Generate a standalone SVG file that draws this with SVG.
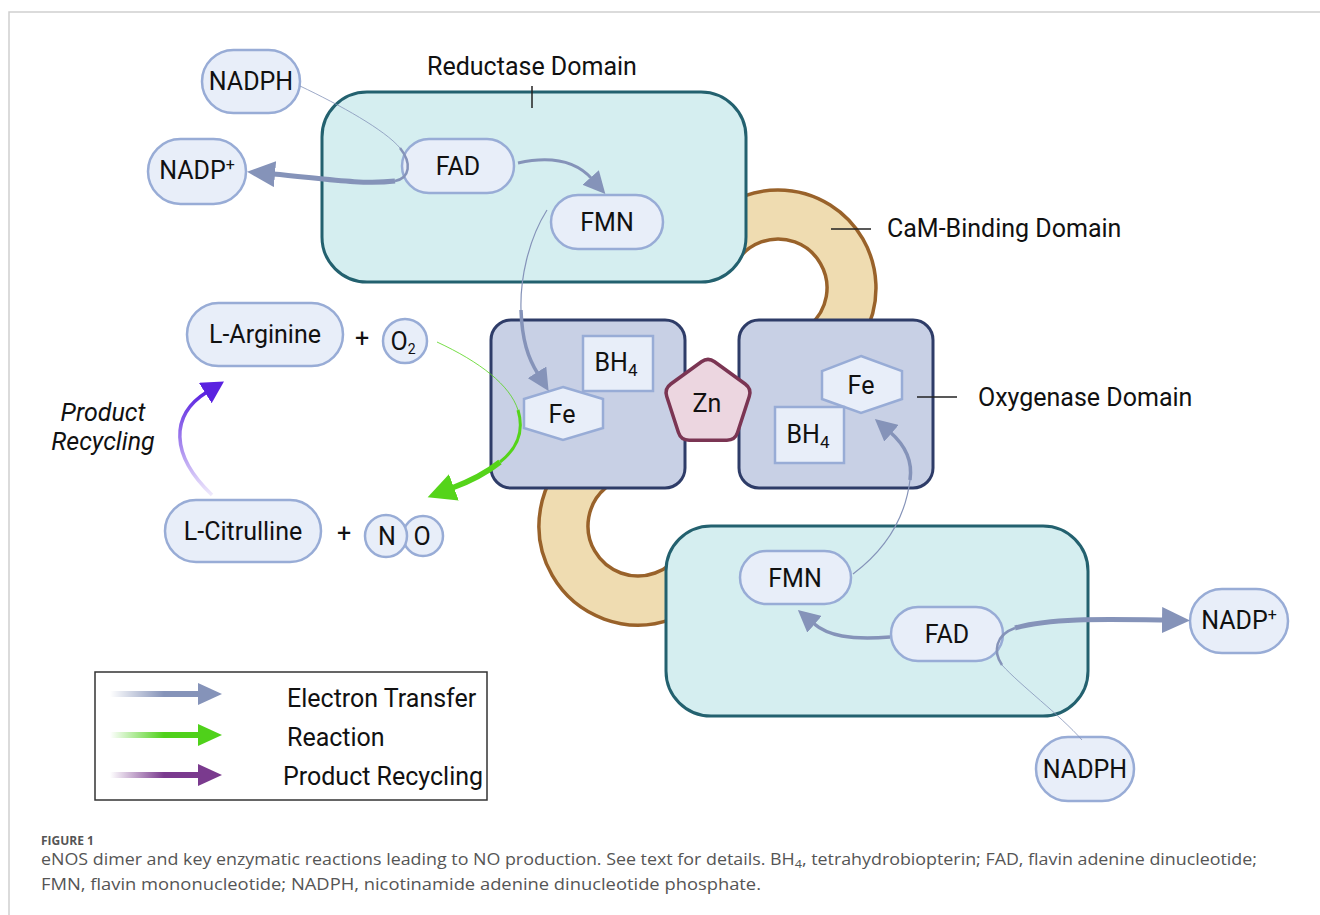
<svg xmlns="http://www.w3.org/2000/svg" width="1320" height="915" viewBox="0 0 1320 915">
<style>
.t{font-family:Roboto,"Liberation Sans",sans-serif;font-size:25px;fill:#111}
.c{text-anchor:middle}
.node{fill:#e8eef9;stroke:#98acd6;stroke-width:2.5}
.red{fill:#d5eef0;stroke:#23616f;stroke-width:3}
.oxy{fill:#c8d0e5;stroke:#2e3c68;stroke-width:3}
.tan{fill:#efdcb1;stroke:#99622a;stroke-width:3.5}
.lead{stroke:#222;stroke-width:1.5}
.e{fill:none;stroke:#8593b9}
.g{fill:none;stroke:#55d41a}
.cap{font-family:"Open Sans","Liberation Sans",sans-serif;fill:#555}
</style>
<defs>
<marker id="ae" markerUnits="userSpaceOnUse" markerWidth="30" markerHeight="26" viewBox="0 0 30 26" refX="2" refY="13" orient="auto"><path d="M0,0 L28,13 L0,26 z" fill="#8593b9"/></marker>
<marker id="aes" markerUnits="userSpaceOnUse" markerWidth="24" markerHeight="22" viewBox="0 0 24 22" refX="2" refY="11" orient="auto"><path d="M0,0 L22,11 L0,22 z" fill="#8593b9"/></marker>
<marker id="ag" markerUnits="userSpaceOnUse" markerWidth="30" markerHeight="28" viewBox="0 0 30 28" refX="2" refY="14" orient="auto"><path d="M0,0 L28,14 L0,28 z" fill="#55d41a"/></marker>
<marker id="ap" markerUnits="userSpaceOnUse" markerWidth="24" markerHeight="24" viewBox="0 0 24 24" refX="2" refY="12" orient="auto"><path d="M0,0 L22,12 L0,24 z" fill="#5a22e0"/></marker>
<linearGradient id="lgE" gradientUnits="userSpaceOnUse" x1="110" y1="0" x2="200" y2="0"><stop offset="0" stop-color="#8593b9" stop-opacity="0"/><stop offset="0.6" stop-color="#8593b9"/></linearGradient>
<linearGradient id="lgG" gradientUnits="userSpaceOnUse" x1="110" y1="0" x2="200" y2="0"><stop offset="0" stop-color="#4fd11a" stop-opacity="0"/><stop offset="0.6" stop-color="#4fd11a"/></linearGradient>
<linearGradient id="lgP" gradientUnits="userSpaceOnUse" x1="110" y1="0" x2="200" y2="0"><stop offset="0" stop-color="#7a3a8e" stop-opacity="0"/><stop offset="0.6" stop-color="#7a3a8e"/></linearGradient>
<linearGradient id="gP" gradientUnits="userSpaceOnUse" x1="0" y1="495" x2="0" y2="392"><stop offset="0" stop-color="#5a22e0" stop-opacity="0.1"/><stop offset="1" stop-color="#5a22e0"/></linearGradient>
</defs>

<g id="frame"><path d="M9,915 V12 H1320" fill="none" stroke="#cfcfcf" stroke-width="1.5"/></g>

<g id="cam-binding-upper"><path class="tan" d="M693.1,239 A98,98 0 1 1 778,386 L778,337 A49,49 0 1 0 735.6,263.5 Z"/></g>
<g id="cam-binding-lower"><path class="tan" d="M638,427 A99,99 0 1 0 723.7,575.5 L681.3,551 A50,50 0 1 1 638,476 Z"/></g>

<g id="reductase-top"><rect class="red" x="322" y="92" width="424" height="190" rx="45"/></g>
<g id="reductase-bottom"><rect class="red" x="666" y="526" width="422" height="190" rx="45"/></g>
<g id="oxygenase-left"><rect class="oxy" x="491" y="320" width="194" height="168" rx="20"/></g>
<g id="oxygenase-right"><rect class="oxy" x="739" y="320" width="194" height="168" rx="20"/></g>

<g id="zn"><path d="M714.56,361.77 L745.19,384.02 Q751.75,388.79 749.24,396.5 L737.55,432.5 Q735.04,440.21 726.93,440.21 L689.07,440.21 Q680.96,440.21 678.45,432.5 L666.76,396.5 Q664.25,388.79 670.81,384.02 L701.44,361.77 Q708,357 714.56,361.77 Z" fill="#ecd6e0" stroke="#7b3553" stroke-width="3.5"/><text class="t c" x="707" y="412" font-size="27">Zn</text></g>

<g id="bh4-left"><rect class="node" x="583" y="336" width="70" height="55" stroke-width="2"/><text class="t c" x="616" y="371">BH<tspan font-size="17" dy="5">4</tspan></text></g>
<g id="fe-left"><polygon class="node" points="563,387 603,399 603,428 563,440 524,428 524,399" stroke-width="2"/><text class="t c" x="562" y="423" font-size="27">Fe</text></g>
<g id="fe-right"><polygon class="node" points="861,356 902,371 902,399 861,413 822,399 822,371" stroke-width="2"/><text class="t c" x="861" y="394" font-size="27">Fe</text></g>
<g id="bh4-right"><rect class="node" x="775" y="407" width="69" height="56" stroke-width="2"/><text class="t c" x="808" y="443">BH<tspan font-size="17" dy="5">4</tspan></text></g>

<g id="nadph-top"><rect class="node" x="202" y="50" width="98" height="63" rx="31.5"/><text class="t c" x="251" y="90">NADPH</text></g>
<g id="nadp-top"><rect class="node" x="148" y="139" width="98" height="65" rx="32.5"/><text class="t c" x="197" y="179">NADP<tspan font-size="16" dy="-9">+</tspan></text></g>
<g id="fad-top"><rect class="node" x="402" y="139" width="112" height="54" rx="27"/><text class="t c" x="458" y="175">FAD</text></g>
<g id="fmn-top"><rect class="node" x="551" y="195" width="112" height="54" rx="27"/><text class="t c" x="607" y="231">FMN</text></g>
<g id="fmn-bottom"><rect class="node" x="740" y="551" width="111" height="53" rx="26.5"/><text class="t c" x="795" y="587">FMN</text></g>
<g id="fad-bottom"><rect class="node" x="891" y="607" width="112" height="54" rx="27"/><text class="t c" x="947" y="643">FAD</text></g>
<g id="nadp-right"><rect class="node" x="1190" y="589" width="98" height="64" rx="32"/><text class="t c" x="1239" y="629">NADP<tspan font-size="16" dy="-9">+</tspan></text></g>
<g id="nadph-bottom"><rect class="node" x="1036" y="737" width="98" height="64" rx="32"/><text class="t c" x="1085" y="778">NADPH</text></g>

<g id="l-arginine"><rect class="node" x="187" y="303" width="156" height="63" rx="31.5"/><text class="t c" x="265" y="343">L-Arginine</text></g>
<g id="plus1"><text class="t c" x="362" y="347" font-size="30">+</text></g>
<g id="o2"><circle class="node" cx="405" cy="341" r="22"/><text class="t c" x="403" y="350" font-size="21">O<tspan font-size="14" dy="4">2</tspan></text></g>
<g id="l-citrulline"><rect class="node" x="165" y="500" width="156" height="62" rx="31"/><text class="t c" x="243" y="540">L-Citrulline</text></g>
<g id="plus2"><text class="t c" x="344" y="542" font-size="30">+</text></g>
<g id="no"><circle class="node" cx="423" cy="536" r="20"/><circle class="node" cx="386" cy="536" r="21"/><text class="t c" x="387" y="545">N</text><text class="t c" x="422" y="545">O</text></g>

<g id="labels">
<text class="t c" x="532" y="75" font-size="26">Reductase Domain</text>
<line class="lead" x1="532" y1="86" x2="532" y2="108"/>
<text class="t" x="887" y="237" font-size="26">CaM-Binding Domain</text>
<line class="lead" x1="831" y1="229" x2="871" y2="229"/>
<text class="t" x="978" y="406" font-size="26">Oxygenase Domain</text>
<line class="lead" x1="917" y1="397" x2="957" y2="397"/>
<text class="t c" x="103" y="421" font-style="italic" font-size="26">Product</text>
<text class="t c" x="103" y="450" font-style="italic" font-size="26">Recycling</text>
</g>

<g id="connectors">
<path class="e" d="M300,86 C340,105 385,130 400,148" stroke-width="1" stroke-opacity="0.8"/>
<path class="e" d="M400,148 C412,163 410,178 395,181" stroke-width="2.5"/>
<path class="e" d="M395,181 C360,185 320,178 273,174" stroke-width="5" marker-end="url(#ae)"/>
<path class="e" d="M518,163 C550,156 575,160 592,179" stroke-width="3" marker-end="url(#aes)"/>
<path class="e" d="M547,210 C528,240 520,280 521,310" stroke-width="1.2"/>
<path class="e" d="M521,310 C522,340 528,358 538,374" stroke-width="3.5" marker-end="url(#aes)"/>
<path class="e" d="M853,574 C885,550 905,520 910,480" stroke-width="1.2"/>
<path class="e" d="M910,480 C913,460 905,445 890,432" stroke-width="3.5" marker-end="url(#aes)"/>
<path class="e" d="M890,637 C850,640 828,636 813,623" stroke-width="3.5" marker-end="url(#aes)"/>
<path class="e" d="M1082,740 C1060,715 1020,685 1002,665" stroke-width="1" stroke-opacity="0.8"/>
<path class="e" d="M1002,665 C993,652 995,635 1015,628" stroke-width="2.5"/>
<path class="e" d="M1015,628 C1050,618 1100,619 1164,620" stroke-width="5" marker-end="url(#ae)"/>
<path class="g" d="M437,342 C480,362 510,385 518,410" stroke-width="1" stroke-opacity="0.8"/>
<path class="g" d="M518,410 C524,430 518,448 500,462" stroke-width="3"/>
<path class="g" d="M500,462 C485,474 468,482 452,488" stroke-width="5.5" marker-end="url(#ag)"/>
<path d="M212,495 C170,455 170,415 207,392" fill="none" stroke="url(#gP)" stroke-width="3.5" marker-end="url(#ap)"/>
</g>

<g id="legend">
<rect x="95" y="672" width="392" height="128" fill="#fff" stroke="#333" stroke-width="1.5"/>
<line x1="110" y1="694" x2="200" y2="694" stroke="url(#lgE)" stroke-width="6"/>
<polygon points="198,683 222,694 198,705" fill="#8593b9"/>
<line x1="110" y1="735" x2="200" y2="735" stroke="url(#lgG)" stroke-width="6"/>
<polygon points="198,724 222,735 198,746" fill="#4fd11a"/>
<line x1="110" y1="775" x2="200" y2="775" stroke="url(#lgP)" stroke-width="6"/>
<polygon points="198,764 222,775 198,786" fill="#7a3a8e"/>
<text class="t" x="287" y="707">Electron Transfer</text>
<text class="t" x="287" y="746">Reaction</text>
<text class="t" x="283" y="785">Product Recycling</text>
</g>

<g id="caption">
<text class="cap" x="41" y="845" font-size="12" font-weight="bold" fill="#666">FIGURE 1</text>
<text class="cap" x="41" y="865" font-size="15.5" textLength="1216" lengthAdjust="spacingAndGlyphs">eNOS dimer and key enzymatic reactions leading to NO production. See text for details. BH<tspan font-size="11" dy="3">4</tspan><tspan dy="-3">, tetrahydrobiopterin; FAD, flavin adenine dinucleotide;</tspan></text>
<text class="cap" x="41" y="890" font-size="15.5" textLength="720" lengthAdjust="spacingAndGlyphs">FMN, flavin mononucleotide; NADPH, nicotinamide adenine dinucleotide phosphate.</text>
</g>
</svg>
